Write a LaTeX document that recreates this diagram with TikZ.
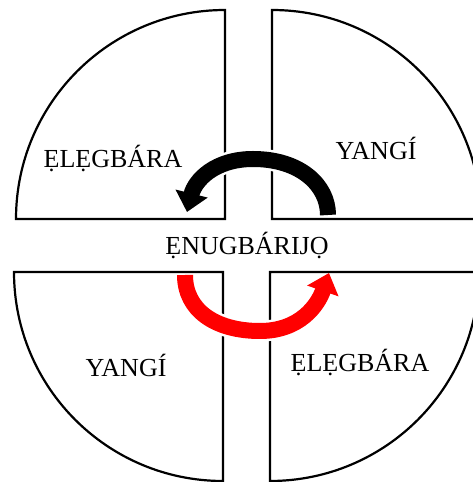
\documentclass[tikz,border=0pt]{standalone}
\usepackage{fontspec}
\setmainfont{Liberation Serif}
\usetikzlibrary{arrows.meta}
\definecolor{arrowred}{RGB}{255, 0, 0}
\tikzset{
  quadrant/.style={draw=black, line width=2.2pt, fill=white},
  word/.style={font=\fontsize{26}{30}\selectfont, anchor=base},
  bigarrow/.style={line width=16pt,
    preaction={draw=white, line width=21pt, -{Triangle[width=35pt, length=21pt]}},
    -{Triangle[width=32pt, length=19pt]}},
}

\begin{document}
\begin{tikzpicture}[x=1pt, y=1pt]
  \useasboundingbox (0,0) rectangle (472,482);

  % four quarter discs
  \draw[quadrant] (225,263) -- (16,263) arc[start angle=180, end angle=90, radius=209] -- cycle;
  \draw[quadrant] (272,263) -- (272,472) arc[start angle=90, end angle=0, radius=209] -- cycle;
  \draw[quadrant] (223,210) -- (14,210) arc[start angle=180, end angle=270, radius=209] -- cycle;
  \draw[quadrant] (270,210) -- (479,210) arc[start angle=0, end angle=-90, radius=209] -- cycle;

  \node[word] (elegbaraTop) at (113,314) {ẸLẸGBÁRA};
  \node[word] (yangiTop) at (376,322) {YANGÍ};
  \node[word] (yangiBottom) at (126,105) {YANGÍ};
  \node[word] (elegbaraBottom) at (360,110) {ẸLẸGBÁRA};
  \node[word] (enugbarijo) at (247,227) {ẸNUGBÁRIJỌ};

  % curved arrows
  \coordinate (blackStart) at (328,267);
  \coordinate (blackTop) at (253,323);
  \coordinate (blackEnd) at (187,270);
  \draw[bigarrow, black] (blackStart) .. controls (328,297) and (300,323) .. (blackTop)
    .. controls (215,323) and (195,302) .. (blackEnd);

  \coordinate (redStart) at (185,207);
  \coordinate (redBottom) at (260,151);
  \coordinate (redEnd) at (329,209);
  \draw[bigarrow, arrowred] (redStart) .. controls (185,172) and (215,151) .. (redBottom)
    .. controls (300,151) and (318,177) .. (redEnd);
\end{tikzpicture}
\end{document}
